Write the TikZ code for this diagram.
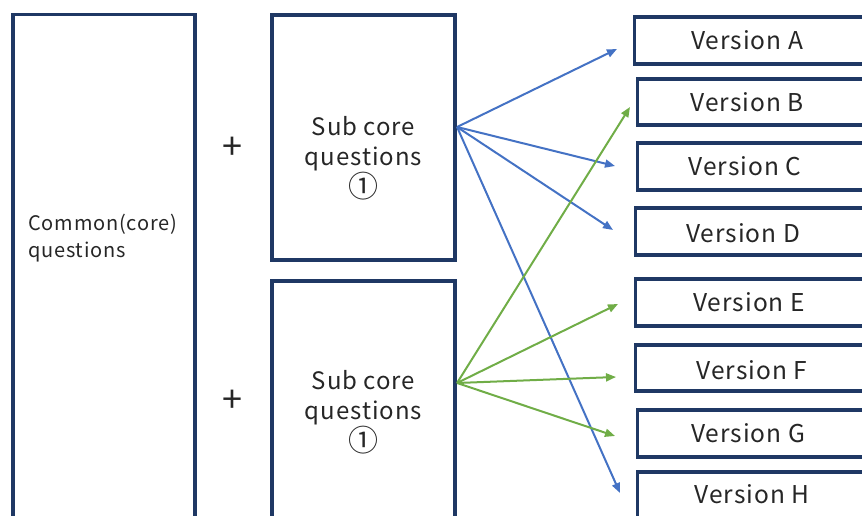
\documentclass[tikz,border=0pt]{standalone}
\usepackage{fontspec}
\setmainfont{Noto Sans CJK JP}[LetterSpace=4]
\usetikzlibrary{arrows.meta, positioning}

\definecolor{navy}{HTML}{1F3864}
\definecolor{arrblue}{HTML}{4472C4}
\definecolor{arrgreen}{HTML}{70AD47}
\definecolor{txtgray}{HTML}{262626}

\begin{document}
\begin{tikzpicture}[x=1pt, y=-1pt, >={Triangle[length=10pt, width=8pt]},
    box/.style={draw=navy, line width=3.6pt, inner sep=0pt},
    verbox/.style={box, anchor=west, minimum width=260pt, minimum height=46.5pt},
    vtext/.style={text=txtgray, font=\fontsize{24.5}{28}\selectfont, inner sep=0pt},
    subtext/.style={text=txtgray, align=center, inner sep=0pt, font=\fontsize{24}{30}\selectfont},
    plustext/.style={text=txtgray, font=\fontsize{36}{36}\selectfont, inner sep=0pt},
    blue arrow/.style={->, draw=arrblue, line width=2pt},
    green arrow/.style={->, draw=arrgreen, line width=2pt}]
    \useasboundingbox (0,0) rectangle (862,516);
    \clip (0,0) rectangle (862,516);

    % left and middle blocks
    \node (common) [box, minimum width=182.5pt, minimum height=585pt] at (104,307) {};
    \node (commontext) [anchor=west, align=left, inner sep=0pt, text=txtgray,
        font=\fontsize{20}{27}\selectfont] at (28,238) {Common(core)\\questions};
    \node (sub1) [box, minimum width=183.5pt, minimum height=245.5pt] at (363.5,137.5) {};
    \node (sub2) [box, minimum width=183.5pt, minimum height=245.5pt] at (363.5,403.5) {};
    \node (sub1text) [subtext] at (363.5,158) {Sub core\\questions\\{\fontsize{30}{30}\selectfont ①}};
    \node (sub2text) [subtext] at (363.5,412) {Sub core\\questions\\{\fontsize{30}{30}\selectfont ①}};
    \node (plus1) [plustext] at (232,148) {+};
    \node (plus2) [plustext] at (232,401) {+};

    % versions
    \node (vA) [verbox] at (632.5,40.5) {};
    \node (vB) [verbox] at (635.5,102) {};
    \node (vC) [verbox] at (635.5,166.5) {};
    \node (vD) [verbox] at (633.5,231.5) {};
    \node (vE) [verbox] at (633.5,302.5) {};
    \node (vF) [verbox] at (633.5,368) {};
    \node (vG) [verbox] at (635.5,433.5) {};
    \node (vH) [verbox] at (635.5,495.5) {};
    \node (lA) [vtext] at (747,40.5) {Version A};
    \node (lB) [vtext] at (747,102) {Version B};
    \node (lC) [vtext] at (745,166.5) {Version C};
    \node (lD) [vtext] at (743,233) {Version D};
    \node (lE) [vtext] at (749,302.5) {Version E};
    \node (lF) [vtext] at (752,370) {Version F};
    \node (lG) [vtext] at (748,433.5) {Version G};
    \node (lH) [vtext] at (752,494) {Version H};

    % arrow ends
    \coordinate (s1) at ([yshift=10.5pt]sub1.east);
    \coordinate (s2) at ([yshift=20.5pt]sub2.east);
    \coordinate (tA) at (617,49);
    \coordinate (tB) at (630,107);
    \coordinate (tC) at (615,166);
    \coordinate (tD) at (613,230);
    \coordinate (tE) at (618,304);
    \coordinate (tF) at (616,377);
    \coordinate (tG) at (615,436);
    \coordinate (tH) at (620,493);

    % arrows
    \draw[blue arrow] (s1) -- (tA);
    \draw[blue arrow] (s1) -- (tC);
    \draw[blue arrow] (s1) -- (tD);
    \draw[blue arrow] (s1) -- (tH);
    \draw[green arrow] (s2) -- (tB);
    \draw[green arrow] (s2) -- (tE);
    \draw[green arrow] (s2) -- (tF);
    \draw[green arrow] (s2) -- (tG);
\end{tikzpicture}
\end{document}
